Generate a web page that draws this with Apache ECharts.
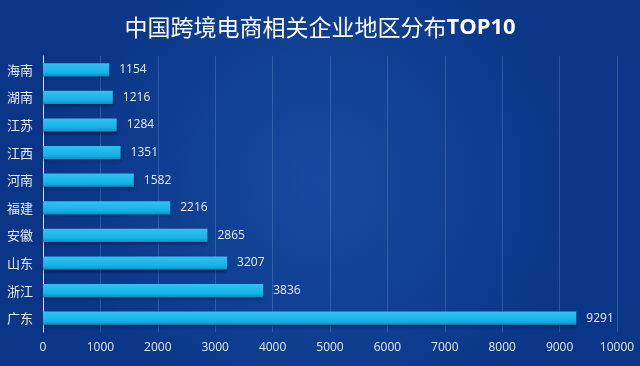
<!DOCTYPE html>
<html><head><meta charset="utf-8">
<script src="https://cdn.jsdelivr.net/npm/echarts@6/dist/echarts.min.js"></script>
<style>html,body{margin:0;padding:0;background:#0c3a8e;}#c{width:640px;height:366px;}</style>
</head><body><div id="c"></div>
<script>
const titleMain = '中国跨境电商相关企业地区分布';
const titleTail = 'TOP10';
const categories = ['海南','湖南','江苏','江西','河南','福建','安徽','山东','浙江','广东'];
const values = [1154,1216,1284,1351,1582,2216,2865,3207,3836,9291];
const xTicks = [0,1000,2000,3000,4000,5000,6000,7000,8000,9000,10000];

const chart = echarts.init(document.getElementById('c'));
chart.setOption({
  backgroundColor: new echarts.graphic.RadialGradient(0.5,0.5,0.75,[
    {offset:0,color:'#164aa0'},{offset:1,color:'#0b3586'}]),
  title:{text:'{a|'+titleMain+'}{b|'+titleTail+'}',left:'center',top:11,
    textStyle:{rich:{
      a:{color:'#ffffff',fontSize:23,fontWeight:'normal',fontFamily:'Noto Sans CJK SC'},
      b:{color:'#ffffff',fontSize:22,fontWeight:'bold',fontFamily:'Open Sans'}}}},
  grid:{left:43,right:23,top:56,bottom:34},
  xAxis:{type:'value',min:xTicks[0],max:xTicks[xTicks.length-1],interval:1000,
    axisLine:{show:false},axisTick:{show:false},
    axisLabel:{color:'#dfe8f7',fontSize:12,margin:10,fontFamily:'Open Sans',formatter:v=>String(v)},
    splitLine:{lineStyle:{color:'rgba(170,195,235,0.22)',width:1}}},
  yAxis:{type:'category',data:categories,inverse:true,
    axisLine:{show:true,lineStyle:{color:'#d8e4f5',width:1}},axisTick:{show:false},
    axisLabel:{color:'#e6ecf7',fontSize:13,margin:10,fontFamily:'Noto Sans CJK SC'}},
  series:[{type:'bar',data:values,barWidth:'48%',
    itemStyle:{color:new echarts.graphic.LinearGradient(0,0,0,1,[
      {offset:0,color:'#2cc4f0'},{offset:0.7,color:'#17b1e6'},{offset:1,color:'#0f8fc8'}]),
      shadowColor:'rgba(0,10,50,0.6)',shadowBlur:3,shadowOffsetY:2},
    label:{show:true,position:'right',distance:10,color:'#e6ecf7',fontSize:12,fontFamily:'Open Sans',formatter:p=>String(p.value)}}]
});
</script></body></html>
